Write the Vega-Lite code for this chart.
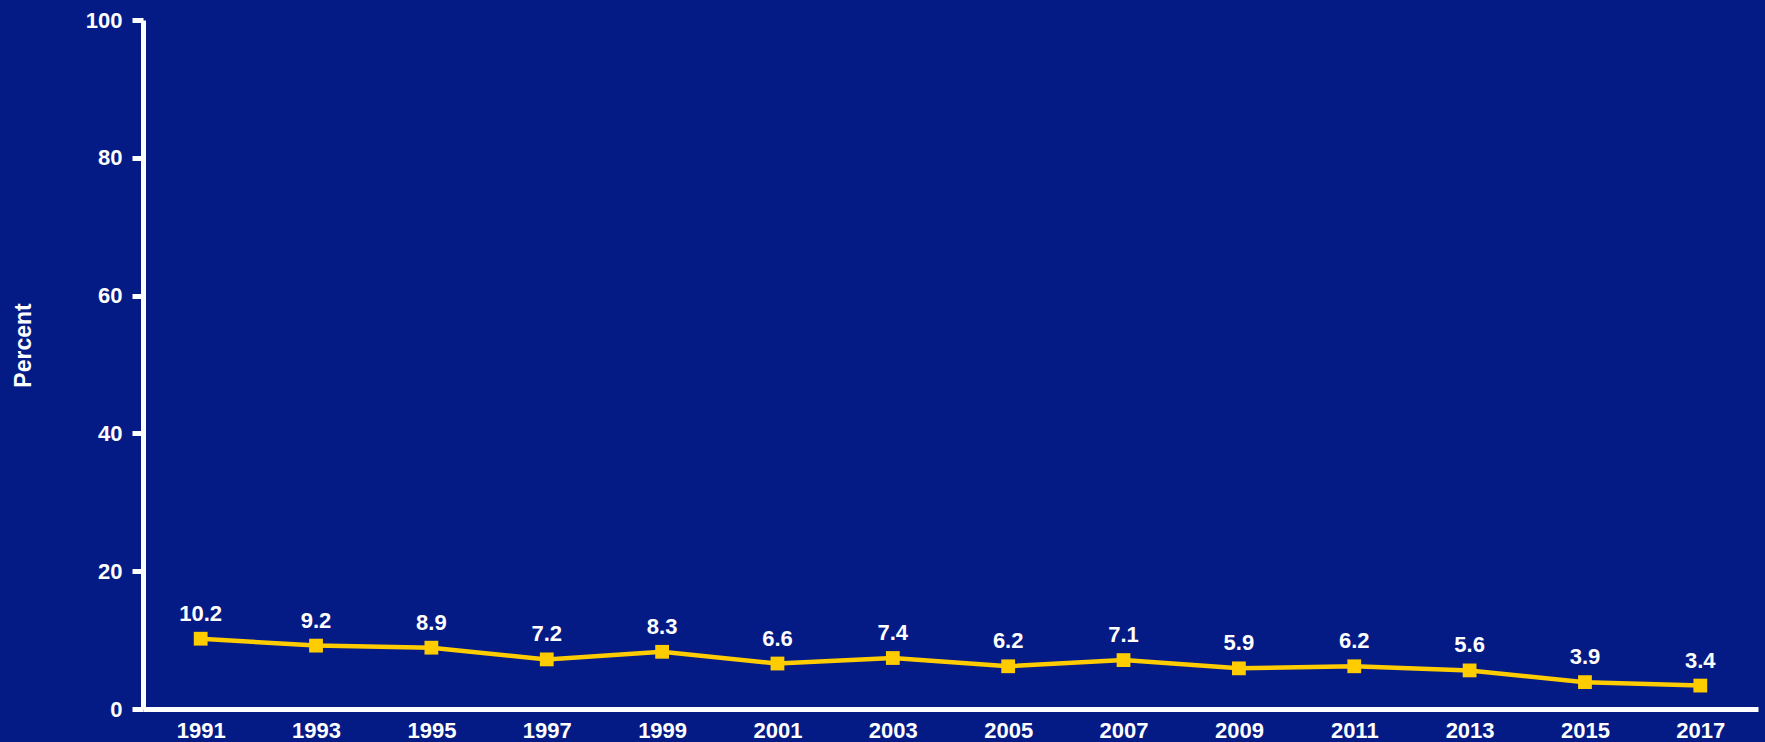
{
  "$schema": "https://vega.github.io/schema/vega-lite/v6.json",
  "autosize": {"type": "none"},
  "width": 1615,
  "height": 689,
  "padding": {"left": 143, "top": 20, "right": 7, "bottom": 33},
  "background": "#041b86",
  "config": {
    "view": {"stroke": null},
    "font": "Liberation Sans",
    "axis": {"grid": false}
  },
  "data": {
    "values": [
      {"year": "1991", "pct": 10.2},
      {"year": "1993", "pct": 9.2},
      {"year": "1995", "pct": 8.9},
      {"year": "1997", "pct": 7.2},
      {"year": "1999", "pct": 8.3},
      {"year": "2001", "pct": 6.6},
      {"year": "2003", "pct": 7.4},
      {"year": "2005", "pct": 6.2},
      {"year": "2007", "pct": 7.1},
      {"year": "2009", "pct": 5.9},
      {"year": "2011", "pct": 6.2},
      {"year": "2013", "pct": 5.6},
      {"year": "2015", "pct": 3.9},
      {"year": "2017", "pct": 3.4}
    ]
  },
  "encoding": {
    "x": {
      "field": "year",
      "type": "ordinal",
      "scale": {"type": "point", "padding": 0.5},
      "axis": {
        "title": null,
        "labelAngle": 0,
        "ticks": false,
        "domainColor": "white",
        "domainWidth": 5,
        "labelColor": "white",
        "labelFont": "Liberation Sans",
        "labelFontWeight": "bold",
        "labelFontSize": 22,
        "labelPadding": 11
      }
    },
    "y": {
      "field": "pct",
      "type": "quantitative",
      "scale": {"domain": [0, 100]},
      "axis": {
        "title": "Percent",
        "values": [0, 20, 40, 60, 80, 100],
        "domainColor": "white",
        "domainWidth": 5,
        "tickColor": "white",
        "tickWidth": 5,
        "tickSize": 11,
        "labelColor": "white",
        "labelFont": "Liberation Sans",
        "labelFontWeight": "bold",
        "labelFontSize": 22,
        "labelPadding": 10,
        "titleColor": "white",
        "titleFont": "Liberation Sans",
        "titleFontWeight": "bold",
        "titleFontSize": 23,
        "titleAngle": -90,
        "titleAlign": "center",
        "titleBaseline": "middle",
        "titleX": -120,
        "titleY": 325
      }
    }
  },
  "layer": [
    {"mark": {"type": "line", "color": "#FFCC00", "strokeWidth": 4.5}},
    {"mark": {"type": "point", "shape": "square", "filled": true, "opacity": 1, "color": "#FFCC00", "size": 190}},
    {
      "mark": {"type": "text", "color": "white", "font": "Liberation Sans", "fontWeight": "bold", "fontSize": 22, "baseline": "alphabetic", "dy": -18},
      "encoding": {"text": {"field": "pct", "type": "quantitative", "format": ".1f"}}
    }
  ]
}
